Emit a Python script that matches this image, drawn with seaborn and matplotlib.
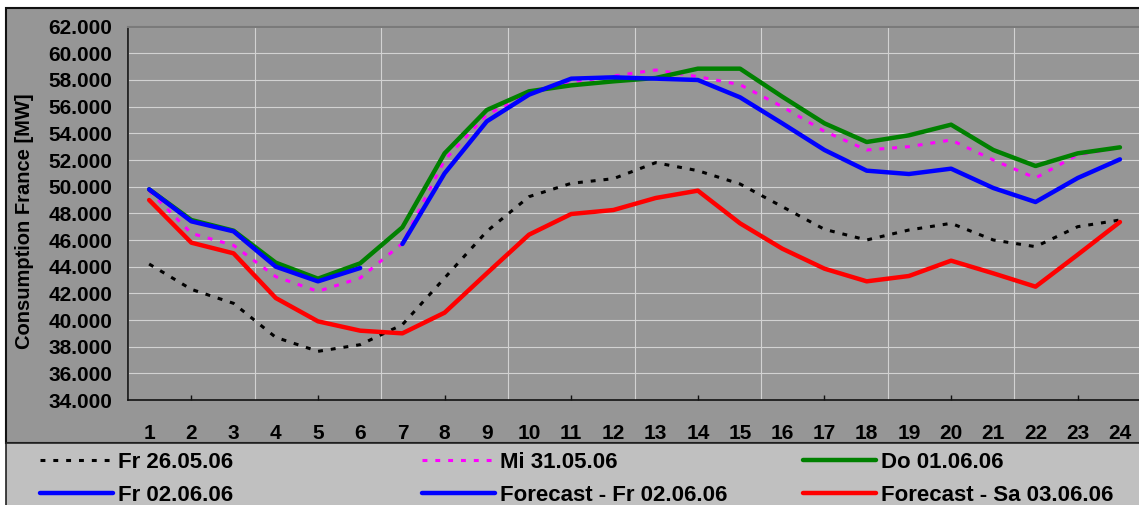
import matplotlib
matplotlib.use("Agg")
import matplotlib.pyplot as plt
from matplotlib.patches import Rectangle
from matplotlib.ticker import FuncFormatter
import seaborn as sns

# hourly consumption in France (MW)
hours = list(range(1, 25))
hours_actual = list(range(1, 7))
hours_forecast = list(range(7, 25))

fr_26_05 = [44200, 42300, 41250, 38700, 37650, 38150, 39650, 43150, 46650, 49250, 50250, 50600,
            51800, 51200, 50200, 48500, 46800, 46000, 46750, 47250, 46000, 45500, 47000, 47500]
mi_31_05 = [49700, 46500, 45600, 43250, 42150, 43150, 45750, 52000, 55400, 57000, 57800, 58300,
            58750, 58250, 57650, 56000, 54150, 52750, 53000, 53500, 52000, 50650, 52400, 52900]
do_01_06 = [49800, 47500, 46700, 44300, 43100, 44250, 46950, 52500, 55750, 57150, 57600, 57900,
            58150, 58850, 58850, 56750, 54750, 53350, 53850, 54650, 52750, 51550, 52500, 52950]
fr_02_06 = [49800, 47400, 46650, 44000, 42900, 43900]
forecast_fr_02_06 = [45700, 51000, 54900, 56900, 58100, 58200, 58100, 58000, 56700, 54750, 52750,
                     51200, 50950, 51350, 49900, 48850, 50650, 52050]
forecast_sa_03_06 = [49000, 45800, 45000, 41650, 39900, 39200, 39000, 40550, 43500, 46400, 47950,
                     48250, 49150, 49700, 47250, 45350, 43850, 42900, 43300, 44450, 43500, 42500,
                     44900, 47350]

labels = ["Fr 26.05.06", "Mi 31.05.06", "Do 01.06.06",
          "Fr 02.06.06", "Forecast - Fr 02.06.06", "Forecast - Sa 03.06.06"]

sns.set_style("white")
plt.rcParams["font.family"] = ["Liberation Sans", "DejaVu Sans"]
plt.rcParams["font.weight"] = "bold"
plt.rcParams["text.color"] = "black"
plt.rcParams["axes.labelcolor"] = "black"
plt.rcParams["xtick.color"] = "black"
plt.rcParams["ytick.color"] = "black"

fig = plt.figure(figsize=(11.39, 5.05), dpi=100)
fig.patch.set_facecolor("white")

# chart area and legend strip (behind the axes)
fig.patches.append(Rectangle((0.0053, 0.1228), 1.0, 0.8614, transform=fig.transFigure,
                             facecolor="#969696", edgecolor="#111111", linewidth=1.5, zorder=-2))
fig.patches.append(Rectangle((0.0053, -0.01), 1.0, 0.1328, transform=fig.transFigure,
                             facecolor="#c0c0c0", edgecolor="#222222", linewidth=1.2, zorder=-1))

ax = fig.add_axes([0.1124, 0.2079, 0.8894, 0.7393])
ax.set_facecolor("#969696")

dot = (0, (1.6, 2.6))
solid_w = 3.2
sns.lineplot(x=hours, y=fr_26_05, ax=ax, color="black", linewidth=2.2, linestyle=dot,
             label=labels[0], legend=False)
sns.lineplot(x=hours, y=mi_31_05, ax=ax, color="#ff00ff", linewidth=2.2, linestyle=dot,
             label=labels[1], legend=False)
sns.lineplot(x=hours, y=do_01_06, ax=ax, color="#008000", linewidth=solid_w,
             label=labels[2], legend=False)
sns.lineplot(x=hours_actual, y=fr_02_06, ax=ax, color="#0000ff", linewidth=solid_w,
             label=labels[3], legend=False)
sns.lineplot(x=hours_forecast, y=forecast_fr_02_06, ax=ax, color="#0000ff", linewidth=solid_w,
             label=labels[4], legend=False)
sns.lineplot(x=hours, y=forecast_sa_03_06, ax=ax, color="#ff0000", linewidth=solid_w,
             label=labels[5], legend=False)

ax.set_xlim(0.5, 24.5)
ax.set_ylim(34000, 62000)
ax.set_yticks(range(34000, 62001, 2000))
ax.yaxis.set_major_formatter(FuncFormatter(lambda v, p: f"{int(v):,}".replace(",", ".")))
ax.set_xticks(hours)
ax.set_xticklabels([str(h) for h in hours])
ax.set_xticks([0.5 + 3 * k for k in range(9)], minor=True)
ax.tick_params(axis="x", which="major", length=0, pad=17, labelsize=15)
ax.tick_params(axis="x", which="minor", length=4.5, width=1, direction="out", color="#111111")
ax.tick_params(axis="y", length=4.5, width=1, direction="out", color="#111111", pad=7, labelsize=15)
for t in ax.get_xticklabels() + ax.get_yticklabels():
    t.set_fontweight("bold")

ax.grid(False)
ax.yaxis.grid(True, color="#d2d2d2", linewidth=0.8)
ax.xaxis.grid(True, which="minor", color="#d2d2d2", linewidth=0.8)

# small inward ticks between the category gridlines
sec = ax.secondary_xaxis("bottom")
sec.set_xticks([2 + 3 * k for k in range(8)])
sec.set_xticklabels([])
sec.tick_params(length=3.5, width=1, direction="in", color="#111111")
sec.spines["bottom"].set_visible(False)

for s in ["left", "bottom"]:
    ax.spines[s].set_color("#111111")
    ax.spines[s].set_linewidth(1.2)
ax.spines["top"].set_color("#7a7a7a")
ax.spines["top"].set_linewidth(1.5)
ax.spines["right"].set_visible(False)

ax.set_xlabel("")
ax.set_ylabel("Consumption France [MW]", fontsize=14.5, fontweight="bold")
ax.yaxis.set_label_coords(-0.093, 0.48)

handles, labs = ax.get_legend_handles_labels()
lookup = dict(zip(labs, handles))
columns = [(labels[0], labels[3]), (labels[1], labels[4]), (labels[2], labels[5])]
col_x = [40 / 1139, 422 / 1139, 803 / 1139]
for cx, col in zip(col_x, columns):
    leg = fig.legend([lookup[c] for c in col], list(col), loc="center left",
                     bbox_to_anchor=(cx, 0.052), frameon=False, borderpad=0, borderaxespad=0,
                     handlelength=3.3, handletextpad=0.2, labelspacing=0.55,
                     prop={"weight": "bold", "size": 16})

fig.savefig("out.png", dpi=100)
